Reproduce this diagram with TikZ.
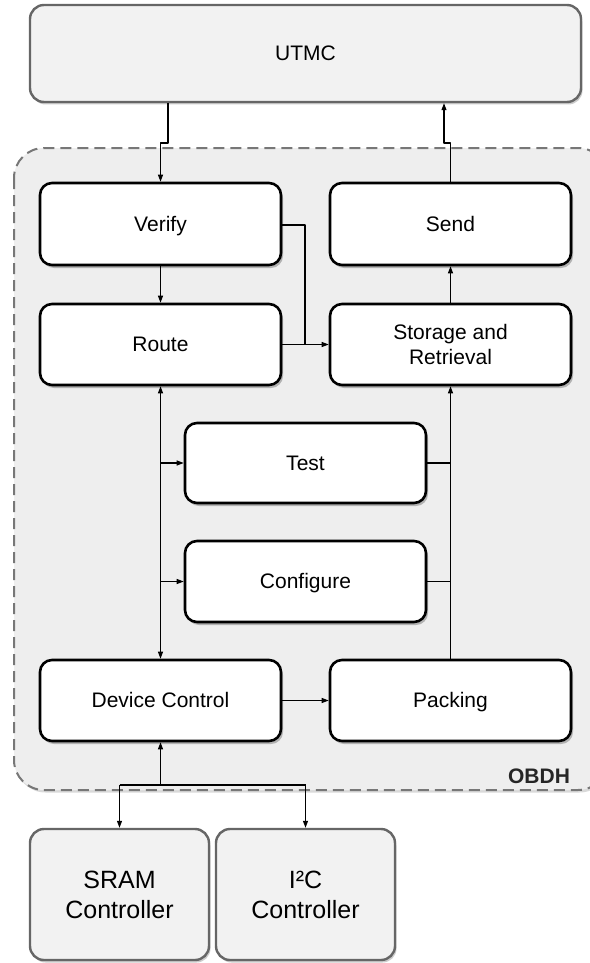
\documentclass[tikz,border=0pt]{standalone}
\usepackage{fontspec}
\setmainfont{Liberation Sans}
\usetikzlibrary{arrows.meta,shadows,positioning}
\definecolor{outerfill}{HTML}{F2F2F2}
\definecolor{outerline}{HTML}{666666}
\definecolor{groupfill}{HTML}{EEEEEE}
\definecolor{groupline}{HTML}{777777}
\tikzset{
  blockbox/.style={draw=black, line width=2.6pt, fill=white, rounded corners=12pt,
    minimum width=241pt, minimum height=81pt, align=center, font=\fontsize{21}{25}\selectfont,
    drop shadow={shadow xshift=2pt, shadow yshift=-3pt, opacity=0.25, fill=black}},
  oneline/.style={text height=15pt, text depth=1pt},
  extbox/.style={draw=outerline, line width=2.4pt, fill=outerfill, rounded corners=14pt,
    align=center, inner sep=0pt,
    drop shadow={shadow xshift=1.5pt, shadow yshift=-2.5pt, opacity=0.2, fill=black}},
  link/.style={line width=1.1pt, draw=black, line join=round},
  arr/.style={link, -{Triangle[length=7pt,width=5pt]}},
  biarr/.style={link, {Triangle[length=7pt,width=5pt]}-{Triangle[length=7pt,width=5pt]}},
}
\begin{document}
\begin{tikzpicture}[x=1pt,y=-1pt]
\useasboundingbox (0,0) rectangle (589,963);

% OBDH group
\draw[groupline, line width=2pt, dash pattern=on 11pt off 6pt, fill=groupfill,
  rounded corners=30pt,
  drop shadow={shadow xshift=1.5pt, shadow yshift=-2.5pt, opacity=0.15, fill=black}]
  (14,148) rectangle (608,790);
\node[font=\fontsize{21}{25}\selectfont\bfseries, text=black!85] (obdhlabel) at (539,776) {OBDH};

% external blocks
\node[extbox, oneline, minimum width=551pt, minimum height=97pt, font=\fontsize{21}{25}\selectfont]
  (utmc) at (305.5,53.5) {UTMC};
\node[extbox, minimum width=179pt, minimum height=131pt, font=\fontsize{25}{30}\selectfont]
  (sram) at (119.5,894.5) {SRAM\\Controller};
\node[extbox, minimum width=179pt, minimum height=131pt, font=\fontsize{25}{30}\selectfont]
  (i2c) at (305.5,894.5) {I²C\\Controller};

% processing blocks
\node[blockbox, oneline, minimum height=82pt] (verify) at (160.5,224) {Verify};
\node[blockbox, oneline, minimum height=82pt] (send) at (450.5,224) {Send};
\node[blockbox, oneline] (route) at (160.5,344.5) {Route};
\node[blockbox] (storage) at (450.5,344.5) {Storage and\\Retrieval};
\node[blockbox, oneline, minimum height=80pt] (test) at (305.5,463) {Test};
\node[blockbox, oneline] (configure) at (305.5,581.5) {Configure};
\node[blockbox, oneline] (devctl) at (160.5,700.5) {Device Control};
\node[blockbox, oneline] (packing) at (450.5,700.5) {Packing};

% junction points
\coordinate (inA) at (168,143);
\coordinate (inB) at (160.5,143);
\coordinate (outA) at (450.5,143);
\coordinate (outB) at (444,143);
\coordinate (vjoin) at (305,225);
\coordinate (lbus) at (160.5,463);
\coordinate (lbus2) at (160.5,581.5);
\coordinate (rbus) at (450.5,463);
\coordinate (rbus2) at (450.5,581.5);
\coordinate (split) at (160.5,785);
\coordinate (splitL) at (119.5,785);
\coordinate (splitR) at (305.5,785);

% UTMC in and out
\draw[arr] (utmc.south -| inA) -- (inA) -- (inB) -- (verify.north);
\draw[arr] (send.north) -- (outA) -- (outB) -- (utmc.south -| outB);

% top section
\draw[arr] (verify.south) -- (route.north);
\draw[link] (verify.east |- vjoin) -- (vjoin) -- (vjoin |- storage.west);
\draw[arr] (route.east) -- (storage.west);
\draw[arr] (storage.north) -- (send.south);

% middle buses
\draw[biarr] (route.south) -- (devctl.north);
\draw[arr] (lbus) -- (test.west);
\draw[arr] (lbus2) -- (configure.west);
\draw[arr] (packing.north) -- (storage.south);
\draw[link] (test.east) -- (rbus);
\draw[link] (configure.east) -- (rbus2);
\draw[arr] (devctl.east) -- (packing.west);

% device controllers
\draw[arr] (split) -- (devctl.south);
\draw[link] (splitL) -- (splitR);
\draw[arr] (splitL) -- (sram.north);
\draw[arr] (splitR) -- (i2c.north);
\end{tikzpicture}
\end{document}
